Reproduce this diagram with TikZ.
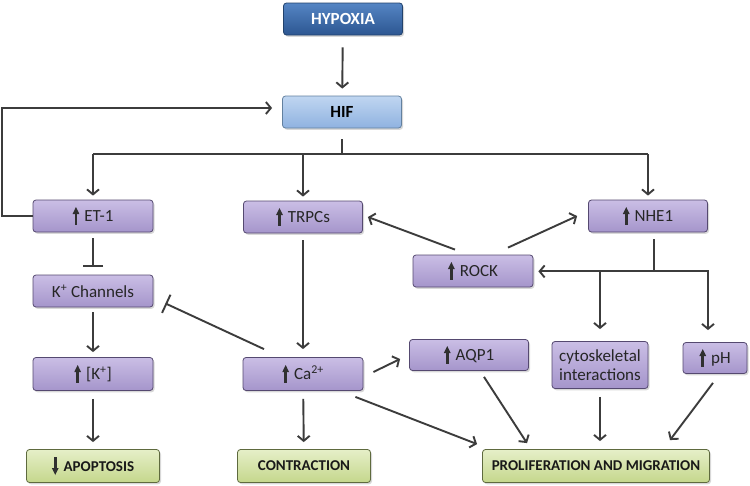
\documentclass[tikz,border=0pt]{standalone}
\usepackage{fontspec}
\setmainfont{Carlito}
\usepackage{xcolor}
\usepackage{tikz}
\usetikzlibrary{arrows.meta,shadows,calc}
\definecolor{linegray}{HTML}{3C3C3C}
\definecolor{markgray}{HTML}{303030}
\definecolor{viotop}{HTML}{CABEE5}
\definecolor{viobot}{HTML}{A595CB}
\definecolor{vioedge}{HTML}{554970}
\definecolor{hyptop}{HTML}{5585C4}
\definecolor{hypbot}{HTML}{2C5691}
\definecolor{hypedge}{HTML}{22426C}
\definecolor{hiftop}{HTML}{C0D6F1}
\definecolor{hifbot}{HTML}{8FB2E0}
\definecolor{hifedge}{HTML}{62809F}
\definecolor{grntop}{HTML}{E6EFC8}
\definecolor{grnbot}{HTML}{C4D78C}
\definecolor{grnedge}{HTML}{5E6A3E}
\newcommand{\upmark}{\tikz[baseline=0pt,sharp corners]{\fill[markgray] (-1.4pt,-3.5pt) rectangle (1.4pt,8pt); \fill[markgray] (-3.4pt,7.5pt) -- (3.4pt,7.5pt) -- (0pt,14.5pt) -- cycle;}\hspace{5pt}}
\newcommand{\downmark}{\tikz[baseline=0pt,sharp corners]{\fill[markgray] (-1.4pt,3pt) rectangle (1.4pt,14.5pt); \fill[markgray] (-3.4pt,3.5pt) -- (3.4pt,3.5pt) -- (0pt,-3.5pt) -- cycle;}\hspace{5pt}}
\tikzset{
	box/.style={rounded corners=3pt, draw=vioedge, line width=0.8pt, top color=viotop, bottom color=viobot,
	minimum width=119pt, minimum height=32pt, inner sep=2pt, align=center, text=black!85,
	font=\fontsize{17}{19}\selectfont, drop shadow={opacity=0.3, shadow xshift=1.5pt, shadow yshift=-1.8pt}},
	hypbox/.style={box, draw=hypedge, top color=hyptop, bottom color=hypbot, text=white,
	font=\fontsize{17}{19}\selectfont\bfseries},
	hifbox/.style={box, draw=hifedge, top color=hiftop, bottom color=hifbot, text=black,
	font=\fontsize{17}{19}\selectfont\bfseries},
	endbox/.style={box, draw=grnedge, top color=grntop, bottom color=grnbot, text=black!90,
	minimum width=133pt, minimum height=33pt, font=\fontsize{15}{18}\selectfont\bfseries},
	line/.style={draw=linegray, line width=1.9pt},
	arr/.style={line, -{Straight Barb[length=5pt,width=12pt]}},
	inh/.style={line, -{Bar[width=20pt]}}
}
\begin{document}
\begin{tikzpicture}[x=1pt,y=-1pt]
		\useasboundingbox[fill=white] (0,0) rectangle (750,485);
		\node[hypbox] (hypoxia) at (343,19) {HYPOXIA};
		\node[hifbox] (hif) at (342,112) {HIF};
		\node[box, minimum width=120pt] (et1) at (93,216) {\upmark ET-1};
		\node[box] (trpc) at (303,217) {\upmark TRPCs};
		\node[box] (nhe1) at (648,216) {\upmark NHE1};
		\node[box, minimum width=120pt] (rock) at (473,271) {\upmark ROCK};
		\node[box, minimum width=120pt] (kchan) at (93,291) {K\textsuperscript{+} Channels};
		\node[box, minimum width=120pt, minimum height=33pt] (kion) at (93,374) {\upmark [K\textsuperscript{+}]};
		\node[box, minimum width=120pt, minimum height=33pt] (ca) at (303,374) {\upmark Ca\textsuperscript{2+}};
		\node[box, minimum height=31pt] (aqp1) at (469,355) {\upmark AQP1};
		\node[box, minimum width=96pt, minimum height=47pt] (cyto) at (600,365) {cytoskeletal\\interactions};
		\node[box, minimum width=64pt, minimum height=31pt] (ph) at (715,358) {\upmark pH};
		\node[endbox] (apop) at (93,466) {\downmark APOPTOSIS};
		\node[endbox] (contr) at (304,466) {CONTRACTION};
		\node[endbox, minimum width=227pt] (prolif) at (596,466) {PROLIFERATION AND MIGRATION};

		\draw[arr, shorten <=12pt, shorten >=7pt] (hypoxia) -- (hif);
		\coordinate (split) at ([yshift=-26pt]hif.south);
		\draw[line] ([yshift=-11pt]hif.south) -- (split);
		\draw[line] (et1.north |- split) -- (nhe1.north |- split);
		\foreach \n in {et1,trpc,nhe1}
			\draw[arr, shorten >=4pt] (\n.north |- split) -- (\n.north);
		\draw[arr, shorten >=10pt] (et1.west) -- ++(-31,0) |- ([yshift=4pt]hif.west);

		\draw[inh] ([yshift=-6pt]et1.south) -- ([yshift=8pt]kchan.north);
		\draw[inh] ([xshift=-39pt,yshift=8pt]ca.north) -- ([xshift=12pt,yshift=4pt]kchan.south east);
		\draw[arr, shorten <=7pt, shorten >=8pt] (trpc.south) -- (trpc.south |- ca.north);
		\draw[arr, shorten <=5pt, shorten >=5pt] (kchan) -- (kion);
		\draw[arr, shorten <=8pt, shorten >=7pt] (kion) -- (apop);
		\draw[arr, shorten <=8pt, shorten >=7pt] (ca) -- (contr);

		\draw[arr] ([xshift=-18pt,yshift=5pt]rock.north) -- ([xshift=5pt]trpc.east);
		\draw[arr] ([xshift=35pt,yshift=7pt]rock.north) -- ([xshift=-11pt]nhe1.west);
		\coordinate (nbr) at ([xshift=6pt,yshift=-39pt]nhe1.south);
		\draw[line] ([yshift=-7pt]nhe1.south -| nbr) -- (nbr);
		\draw[arr, shorten >=5pt] (nbr) -- (nbr -| rock.east);
		\draw[arr] (nbr) -| ([xshift=-7pt,yshift=12pt]ph.north);
		\draw[arr] (cyto.north |- nbr) -- ([yshift=12pt]cyto.north);

		\draw[arr] ([xshift=10pt,yshift=2pt]ca.east) -- ([xshift=-9pt,yshift=-4pt]aqp1.west);
		\draw[arr] ([xshift=-8pt,yshift=-6pt]ca.south east) -- ([xshift=-5pt,yshift=5pt]prolif.north west);
		\draw[arr] ([xshift=15pt,yshift=-6pt]aqp1.south) -- ([xshift=-69pt,yshift=6pt]prolif.north);
		\draw[arr] ([yshift=-8pt]cyto.south) -- ([yshift=8pt]cyto.south |- prolif.north);
		\draw[arr] ([xshift=-2pt,yshift=-9pt]ph.south) -- ([xshift=74pt,yshift=9pt]prolif.north);
\end{tikzpicture}
\end{document}
